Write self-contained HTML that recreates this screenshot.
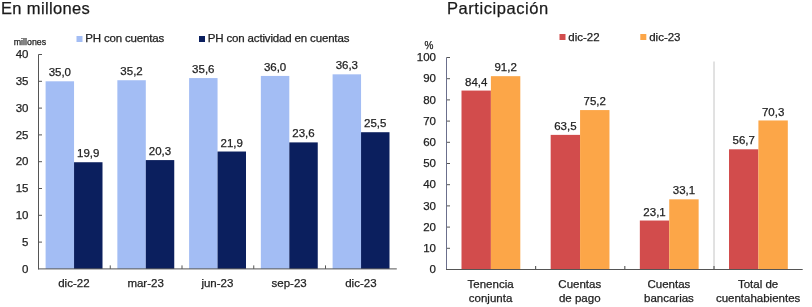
<!DOCTYPE html>
<html><head><meta charset="utf-8"><style>
html,body{margin:0;padding:0;background:#fff;width:812px;height:307px;overflow:hidden}
svg{display:block;will-change:transform}
text{font-family:"Liberation Sans",sans-serif;stroke:#222;stroke-width:0.25px}
</style></head><body>
<svg width="812" height="307" viewBox="0 0 812 307" font-family="Liberation Sans, sans-serif" fill="#222222">
<text x="1" y="13.8" font-size="16.5" letter-spacing="0.35" fill="#1a1a1a">En millones</text>
<text x="447" y="13.8" font-size="16.5" letter-spacing="0.55" fill="#1a1a1a">Participación</text>
<text x="13.8" y="44.6" font-size="8.8">millones</text>
<text x="28.5" y="272.5" font-size="11.5" text-anchor="end">0</text>
<text x="28.5" y="245.7" font-size="11.5" text-anchor="end">5</text>
<line x1="38.5" x2="42.0" y1="242.1" y2="242.1" stroke="#555" stroke-width="1"/>
<text x="28.5" y="218.9" font-size="11.5" text-anchor="end">10</text>
<line x1="38.5" x2="42.0" y1="215.3" y2="215.3" stroke="#555" stroke-width="1"/>
<text x="28.5" y="192.1" font-size="11.5" text-anchor="end">15</text>
<line x1="38.5" x2="42.0" y1="188.5" y2="188.5" stroke="#555" stroke-width="1"/>
<text x="28.5" y="165.3" font-size="11.5" text-anchor="end">20</text>
<line x1="38.5" x2="42.0" y1="161.7" y2="161.7" stroke="#555" stroke-width="1"/>
<text x="28.5" y="138.5" font-size="11.5" text-anchor="end">25</text>
<line x1="38.5" x2="42.0" y1="134.9" y2="134.9" stroke="#555" stroke-width="1"/>
<text x="28.5" y="111.7" font-size="11.5" text-anchor="end">30</text>
<line x1="38.5" x2="42.0" y1="108.1" y2="108.1" stroke="#555" stroke-width="1"/>
<text x="28.5" y="84.9" font-size="11.5" text-anchor="end">35</text>
<line x1="38.5" x2="42.0" y1="81.3" y2="81.3" stroke="#555" stroke-width="1"/>
<text x="28.5" y="58.1" font-size="11.5" text-anchor="end">40</text>
<line x1="38.5" x2="42.0" y1="54.5" y2="54.5" stroke="#555" stroke-width="1"/>
<rect x="45.60" y="81.30" width="28.45" height="187.60" fill="#a3bdf4"/>
<text x="59.83" y="76.3" font-size="11.5" text-anchor="middle">35,0</text>
<rect x="74.05" y="162.24" width="28.45" height="106.66" fill="#0b1f5e"/>
<text x="88.27" y="157.2" font-size="11.5" text-anchor="middle">19,9</text>
<text x="73.88" y="287.3" font-size="11.5" text-anchor="middle">dic-22</text>
<rect x="117.35" y="80.23" width="28.45" height="188.67" fill="#a3bdf4"/>
<text x="131.57" y="75.2" font-size="11.5" text-anchor="middle">35,2</text>
<rect x="145.80" y="160.09" width="28.45" height="108.81" fill="#0b1f5e"/>
<text x="160.02" y="155.1" font-size="11.5" text-anchor="middle">20,3</text>
<text x="145.62" y="287.3" font-size="11.5" text-anchor="middle">mar-23</text>
<line x1="110.25" x2="110.25" y1="265.4" y2="268.9" stroke="#555" stroke-width="1"/>
<rect x="189.10" y="78.08" width="28.45" height="190.82" fill="#a3bdf4"/>
<text x="203.32" y="73.1" font-size="11.5" text-anchor="middle">35,6</text>
<rect x="217.55" y="151.52" width="28.45" height="117.38" fill="#0b1f5e"/>
<text x="231.77" y="146.5" font-size="11.5" text-anchor="middle">21,9</text>
<text x="217.38" y="287.3" font-size="11.5" text-anchor="middle">jun-23</text>
<line x1="182.00" x2="182.00" y1="265.4" y2="268.9" stroke="#555" stroke-width="1"/>
<rect x="260.85" y="75.94" width="28.45" height="192.96" fill="#a3bdf4"/>
<text x="275.08" y="70.9" font-size="11.5" text-anchor="middle">36,0</text>
<rect x="289.30" y="142.40" width="28.45" height="126.50" fill="#0b1f5e"/>
<text x="303.53" y="137.4" font-size="11.5" text-anchor="middle">23,6</text>
<text x="289.12" y="287.3" font-size="11.5" text-anchor="middle">sep-23</text>
<line x1="253.75" x2="253.75" y1="265.4" y2="268.9" stroke="#555" stroke-width="1"/>
<rect x="332.60" y="74.33" width="28.45" height="194.57" fill="#a3bdf4"/>
<text x="346.83" y="69.3" font-size="11.5" text-anchor="middle">36,3</text>
<rect x="361.05" y="132.22" width="28.45" height="136.68" fill="#0b1f5e"/>
<text x="375.28" y="127.2" font-size="11.5" text-anchor="middle">25,5</text>
<text x="360.88" y="287.3" font-size="11.5" text-anchor="middle">dic-23</text>
<line x1="325.50" x2="325.50" y1="265.4" y2="268.9" stroke="#555" stroke-width="1"/>
<line x1="38.5" x2="38.5" y1="54.5" y2="269.4" stroke="#555" stroke-width="1"/>
<line x1="38.0" x2="396.8" y1="268.9" y2="268.9" stroke="#555" stroke-width="1"/>
<rect x="76.5" y="36" width="6" height="6" fill="#a3bdf4"/>
<text x="85.3" y="42.2" font-size="11.5" letter-spacing="-0.18">PH con cuentas</text>
<rect x="199" y="36" width="6" height="6" fill="#0b1f5e"/>
<text x="207.8" y="42.2" font-size="11.5" letter-spacing="-0.16">PH con actividad en cuentas</text>
<text x="429" y="48.5" font-size="10" text-anchor="middle">%</text>
<text x="436" y="273.1" font-size="11.5" text-anchor="end">0</text>
<text x="436" y="251.9" font-size="11.5" text-anchor="end">10</text>
<line x1="446.5" x2="450.0" y1="248.3" y2="248.3" stroke="#555" stroke-width="1"/>
<text x="436" y="230.7" font-size="11.5" text-anchor="end">20</text>
<line x1="446.5" x2="450.0" y1="227.1" y2="227.1" stroke="#555" stroke-width="1"/>
<text x="436" y="209.5" font-size="11.5" text-anchor="end">30</text>
<line x1="446.5" x2="450.0" y1="205.9" y2="205.9" stroke="#555" stroke-width="1"/>
<text x="436" y="188.3" font-size="11.5" text-anchor="end">40</text>
<line x1="446.5" x2="450.0" y1="184.7" y2="184.7" stroke="#555" stroke-width="1"/>
<text x="436" y="167.1" font-size="11.5" text-anchor="end">50</text>
<line x1="446.5" x2="450.0" y1="163.5" y2="163.5" stroke="#555" stroke-width="1"/>
<text x="436" y="145.9" font-size="11.5" text-anchor="end">60</text>
<line x1="446.5" x2="450.0" y1="142.3" y2="142.3" stroke="#555" stroke-width="1"/>
<text x="436" y="124.7" font-size="11.5" text-anchor="end">70</text>
<line x1="446.5" x2="450.0" y1="121.1" y2="121.1" stroke="#555" stroke-width="1"/>
<text x="436" y="103.5" font-size="11.5" text-anchor="end">80</text>
<line x1="446.5" x2="450.0" y1="99.9" y2="99.9" stroke="#555" stroke-width="1"/>
<text x="436" y="82.3" font-size="11.5" text-anchor="end">90</text>
<line x1="446.5" x2="450.0" y1="78.7" y2="78.7" stroke="#555" stroke-width="1"/>
<text x="436" y="61.1" font-size="11.5" text-anchor="end">100</text>
<line x1="446.5" x2="450.0" y1="57.5" y2="57.5" stroke="#555" stroke-width="1"/>
<line x1="714.0" x2="714.0" y1="61.5" y2="269.5" stroke="#c4c4c4" stroke-width="1"/>
<rect x="461.50" y="90.57" width="29.40" height="178.93" fill="#d24c4c"/>
<text x="476.20" y="85.6" font-size="11.5" text-anchor="middle">84,4</text>
<rect x="490.90" y="76.16" width="29.40" height="193.34" fill="#fca648"/>
<text x="505.60" y="71.2" font-size="11.5" text-anchor="middle">91,2</text>
<text x="490.58" y="287.5" font-size="11.5" text-anchor="middle">Tenencia</text>
<text x="490.58" y="301.5" font-size="11.5" text-anchor="middle">conjunta</text>
<rect x="550.67" y="134.88" width="29.40" height="134.62" fill="#d24c4c"/>
<text x="565.37" y="129.9" font-size="11.5" text-anchor="middle">63,5</text>
<rect x="580.07" y="110.08" width="29.40" height="159.42" fill="#fca648"/>
<text x="594.77" y="105.1" font-size="11.5" text-anchor="middle">75,2</text>
<text x="579.75" y="287.5" font-size="11.5" text-anchor="middle">Cuentas</text>
<text x="579.75" y="301.5" font-size="11.5" text-anchor="middle">de pago</text>
<line x1="535.67" x2="535.67" y1="266.0" y2="269.5" stroke="#444" stroke-width="1"/>
<rect x="639.84" y="220.53" width="29.40" height="48.97" fill="#d24c4c"/>
<text x="654.54" y="215.5" font-size="11.5" text-anchor="middle">23,1</text>
<rect x="669.24" y="199.33" width="29.40" height="70.17" fill="#fca648"/>
<text x="683.94" y="194.3" font-size="11.5" text-anchor="middle">33,1</text>
<text x="668.93" y="287.5" font-size="11.5" text-anchor="middle">Cuentas</text>
<text x="668.93" y="301.5" font-size="11.5" text-anchor="middle">bancarias</text>
<line x1="624.84" x2="624.84" y1="266.0" y2="269.5" stroke="#444" stroke-width="1"/>
<rect x="729.01" y="149.30" width="29.40" height="120.20" fill="#d24c4c"/>
<text x="743.71" y="144.3" font-size="11.5" text-anchor="middle">56,7</text>
<rect x="758.41" y="120.46" width="29.40" height="149.04" fill="#fca648"/>
<text x="773.11" y="115.5" font-size="11.5" text-anchor="middle">70,3</text>
<text x="758.10" y="287.5" font-size="11.5" text-anchor="middle">Total de</text>
<text x="758.10" y="301.5" font-size="11.5" text-anchor="middle">cuentahabientes</text>
<line x1="714.01" x2="714.01" y1="266.0" y2="269.5" stroke="#444" stroke-width="1"/>
<line x1="446.5" x2="446.5" y1="57.5" y2="270.0" stroke="#6b6f8c" stroke-width="1"/>
<line x1="446.0" x2="802.7" y1="269.5" y2="269.5" stroke="#555" stroke-width="1"/>
<rect x="559.5" y="34" width="6" height="6" fill="#d24c4c"/>
<text x="568.3" y="41" font-size="11.5">dic-22</text>
<rect x="640.3" y="34" width="6" height="6" fill="#fca648"/>
<text x="649.2" y="41" font-size="11.5">dic-23</text>
</svg>
</body></html>
